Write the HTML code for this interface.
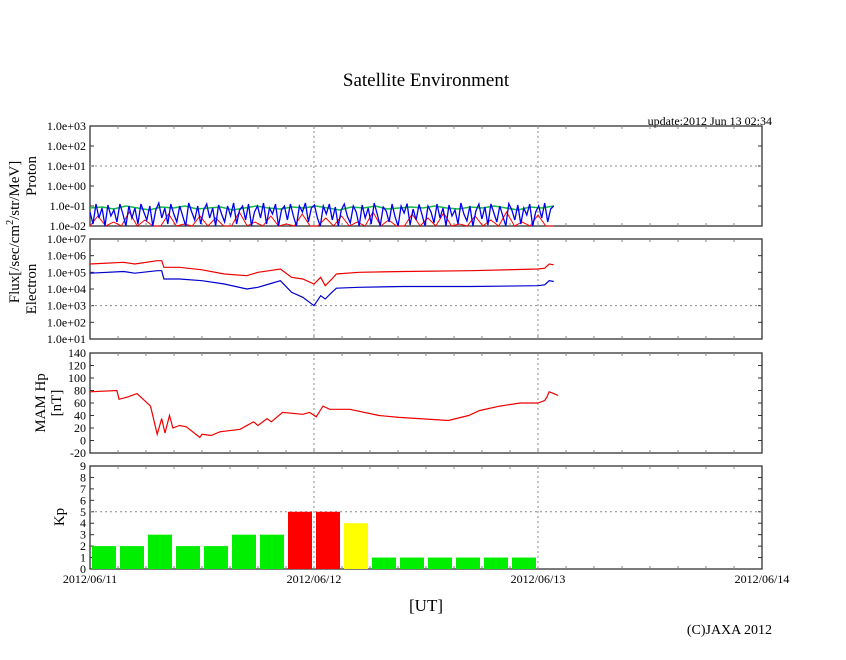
<!DOCTYPE html>
<html><head><meta charset="utf-8"><style>
body{margin:0;background:#fff}
svg text{font-family:"Liberation Serif",serif;fill:#000}
</style></head><body>
<svg id="c" width="846" height="655" viewBox="0 0 846 655" xmlns="http://www.w3.org/2000/svg">
<text x="426" y="86" font-size="19" text-anchor="middle">Satellite Environment</text>
<text x="772" y="125" font-size="12" text-anchor="end">update:2012 Jun 13 02:34</text>
<text transform="translate(19,232) rotate(-90)" font-size="15" text-anchor="middle">Flux[/sec/cm<tspan dy="-6" font-size="10">2</tspan><tspan dy="6">/str/MeV]</tspan></text>
<text transform="translate(36,176) rotate(-90)" font-size="15" text-anchor="middle">Proton</text>
<text transform="translate(36,289) rotate(-90)" font-size="15" text-anchor="middle">Electron</text>
<text transform="translate(45,403) rotate(-90)" font-size="15" text-anchor="middle">MAM Hp</text>
<text transform="translate(61,403) rotate(-90)" font-size="15" text-anchor="middle">[nT]</text>
<text transform="translate(64,517) rotate(-90)" font-size="15" text-anchor="middle">Kp</text>
<text x="426" y="611" font-size="17" text-anchor="middle">[UT]</text>
<text x="772" y="634" font-size="14" text-anchor="end">(C)JAXA 2012</text>
<g id="g"></g>
</svg>
<script>
const dayLabels=["2012/06/11","2012/06/12","2012/06/13","2012/06/14"];
const protonTicks=["1.0e-02","1.0e-01","1.0e+00","1.0e+01","1.0e+02","1.0e+03"];
const electronTicks=["1.0e+01","1.0e+02","1.0e+03","1.0e+04","1.0e+05","1.0e+06","1.0e+07"];
const hpTicks=[-20,0,20,40,60,80,100,120,140];
const kpTicks=[0,1,2,3,4,5,6,7,8,9];
// proton log10 flux, evenly spaced from t=0 to t=2.07 days
const protonBlue=[-1.3,-1.9,-0.9,-1.6,-1.1,-2,-0.95,-1.5,-1.2,-1.8,-0.9,-1.4,-2,-1.0,-1.6,-1.1,-1.9,-0.9,-1.3,-1.7,-1.0,-2,-1.2,-0.85,-1.6,-1.1,-1.9,-0.9,-1.4,-1.8,-1.0,-1.5,-2,-0.85,-1.3,-1.7,-1.0,-1.9,-1.2,-0.9,-1.6,-1.1,-2,-0.95,-1.4,-1.8,-1.0,-1.5,-0.85,-1.9,-1.2,-1.0,-1.7,-0.9,-2,-1.3,-1.0,-1.6,-0.85,-1.9,-1.1,-1.4,-0.9,-2,-1.2,-1.0,-1.7,-0.9,-1.5,-2,-1.0,-1.3,-0.85,-1.8,-1.1,-0.95,-1.6,-2,-1.0,-1.4,
-0.9,-1.7,-1.05,-2,-1.2,-0.9,-1.5,-1.85,-1.0,-1.3,-2,-0.95,-1.6,-1.1,-1.9,-0.85,-1.4,-2,-1.05,-1.25,-1.8,-0.9,-1.55,-2,-1.0,-1.35,-0.88,-1.95,-1.15,-1.7,-0.92,-1.45,-2,-1.0,-1.3,-1.85,-0.9,-1.6,-1.1,-2,-0.95,-1.5,-1.2,-1.9,-0.85,-1.4,-1.75,-1.0,-2,-1.25,-0.9,-1.65,-1.05,-1.95,-0.9,-1.35,-1.8,-1.0,-1.5,-2,-0.88,-1.2,-1.7,-0.95,-1.9,-1.1,-1.45,-0.9,-2,-1.3,-1.0,-1.6,-0.85,-1.8,-1.15,-1.0];
const protonGreen=[-1.1,-1.05,-1.15,-1.0,-1.1,-1.2,-1.05,-1.1,-1.0,-1.15,-1.1,-1.05,-1.2,-1.1,-1.0,-1.1,-1.15,-1.05,-1.1,-1.0,-1.1,-1.2,-1.05,-1.1,-1.0,-1.15,-1.1,-1.05,-1.1,-1.0,-1.1,-1.15,-1.05,-1.1,-1.0,-1.1,-1.2,-1.05,-1.1,-1.0];
const protonRed=[-2,-1.5,-2,-1.8,-2,-1.3,-2,-1.7,-2,-2,-1.4,-2,-1.9,-2,-1.5,-2,-1.6,-2,-2,-1.3,-2,-1.8,-2,-1.5,-2,-1.9,-2,-1.4,-2,-2,-1.6,-2,-1.5,-2,-1.8,-2,-1.3,-2,-1.7,-2,-2,-1.4,-2,-1.6,-2,-1.35,-2,-1.9,-2,-1.5,-2,-1.7,-2,-1.3,-2,-1.8,-2,-1.45,-2,-2];
// electron log10 flux (time in days)
const elecTimes=[0,0.15,0.2,0.3,0.32,0.33,0.4,0.5,0.6,0.7,0.75,0.8,0.85,0.9,0.95,1.0,1.03,1.05,1.08,1.1,1.2,1.4,1.7,2.0,2.03,2.05,2.07];
const elecRed=[5.5,5.6,5.5,5.7,5.7,5.3,5.3,5.15,4.9,4.8,5.0,5.1,5.2,4.7,4.6,4.3,4.7,4.2,4.6,4.9,5.0,5.05,5.1,5.2,5.25,5.5,5.45];
const elecBlue=[4.95,5.05,4.95,5.1,5.1,4.6,4.6,4.5,4.3,4.0,4.1,4.3,4.5,3.8,3.5,3.0,3.6,3.4,3.8,4.05,4.1,4.15,4.15,4.2,4.25,4.5,4.45];
// MAM Hp (nT)
const hpTimes=[0,0.12,0.13,0.17,0.21,0.27,0.3,0.32,0.335,0.355,0.37,0.40,0.43,0.49,0.5,0.54,0.58,0.67,0.73,0.75,0.79,0.81,0.86,0.95,0.98,1.01,1.04,1.07,1.1,1.16,1.29,1.38,1.47,1.6,1.69,1.74,1.83,1.92,2.0,2.03,2.04,2.05,2.07,2.09];
const hpValues=[78,80,66,70,75,55,10,35,12,40,20,24,22,5,10,8,14,18,30,24,35,30,45,42,45,38,55,50,50,50,40,37,35,32,40,48,55,60,60,64,70,78,75,72];
// Kp 3-hour bins
const kpValues=[2,2,3,2,2,3,3,5,5,4,1,1,1,1,1,1];

const NS='http://www.w3.org/2000/svg', G=document.getElementById('g');
const X0=90,X1=762,DAY=224;
const xs=t=>X0+t*DAY;
function el(tag,attrs,parent){const e=document.createElementNS(NS,tag);for(const k in attrs)e.setAttribute(k,attrs[k]);(parent||G).appendChild(e);return e;}
const panels=[{name:'proton',top:126,bot:226,min:-2,max:3},{name:'electron',top:239,bot:339,min:1,max:7},{name:'hp',top:353,bot:453,min:-20,max:140},{name:'kp',top:466,bot:569,min:0,max:9}];
function ys(p,v){return p.bot-(v-p.min)/(p.max-p.min)*(p.bot-p.top);}
function frame(p,ticks,gridVals){
  const f=el('rect',{x:X0,y:p.top,width:X1-X0,height:p.bot-p.top,fill:'none',stroke:'#333','stroke-width':1.3});
  
  
  for(let i=1;i<24;i++){const x=xs(i/8);
    if(i%8==0){const l=el('line',{x1:x,x2:x,y1:p.top,y2:p.bot,stroke:'#888','stroke-dasharray':'2,3'});}
    el('line',{x1:x,x2:x,y1:p.top,y2:p.top+3,stroke:'#888'});el('line',{x1:x,x2:x,y1:p.bot,y2:p.bot-3,stroke:'#888'});}
  ticks.forEach((lab,i)=>{const v=p.min+i*(p.max-p.min)/(ticks.length-1);const y=ys(p,v);
    el('line',{x1:X0,x2:X0+4,y1:y,y2:y,stroke:'#333'});el('line',{x1:X1,x2:X1-4,y1:y,y2:y,stroke:'#333'});
    const t=el('text',{x:X0-4,y:y+4,'font-size':12,'text-anchor':'end'});t.textContent=lab;
    });
  gridVals.forEach(v=>{const y=ys(p,v);const l=el('line',{x1:X0,x2:X1,y1:y,y2:y,stroke:'#888','stroke-dasharray':'2,3'});});
}
frame(panels[0],protonTicks,[1]);
frame(panels[1],electronTicks,[3]);
frame(panels[2],hpTicks.map(String),[]);
frame(panels[3],kpTicks.map(String),[5]);
function line(p,times,vals,color,name,w){
  const d=vals.map((v,i)=>(i?'L':'M')+xs(times[i]).toFixed(1)+','+ys(p,v).toFixed(1)).join('');
  const e=el('path',{d:d,fill:'none',stroke:color,'stroke-width':w||1});
  
  
}
const even=(n,end)=>Array.from({length:n},(_,i)=>i*end/(n-1));
line(panels[0],even(protonRed.length,2.07),protonRed,'#ff0000','proton-red-series',1);
line(panels[0],even(protonGreen.length,2.07),protonGreen,'#11bb44','proton-green-series',1.5);
line(panels[0],even(protonBlue.length,2.07),protonBlue,'#0000ee','proton-blue-series',1.3);
line(panels[1],elecTimes,elecRed,'#ee0000','electron-red-series',1.2);
line(panels[1],elecTimes,elecBlue,'#0000cc','electron-blue-series',1.2);
line(panels[2],hpTimes,hpValues,'#ee0000','hp-series',1.2);
const kp=panels[3];
kpValues.forEach((v,i)=>{const x=xs(i/8)+2,w=DAY/8-4;const y=ys(kp,v);
  const c=v>=5?'#ff0000':(v>=4?'#ffff00':'#00ee00');
  const r=el('rect',{x:x,y:y,width:w,height:kp.bot-y,fill:c});
  
  });
dayLabels.forEach((lab,i)=>{const t=el('text',{x:xs(i),y:583,'font-size':12,'text-anchor':'middle'});t.textContent=lab;
  
  });
</script>
</body></html>
